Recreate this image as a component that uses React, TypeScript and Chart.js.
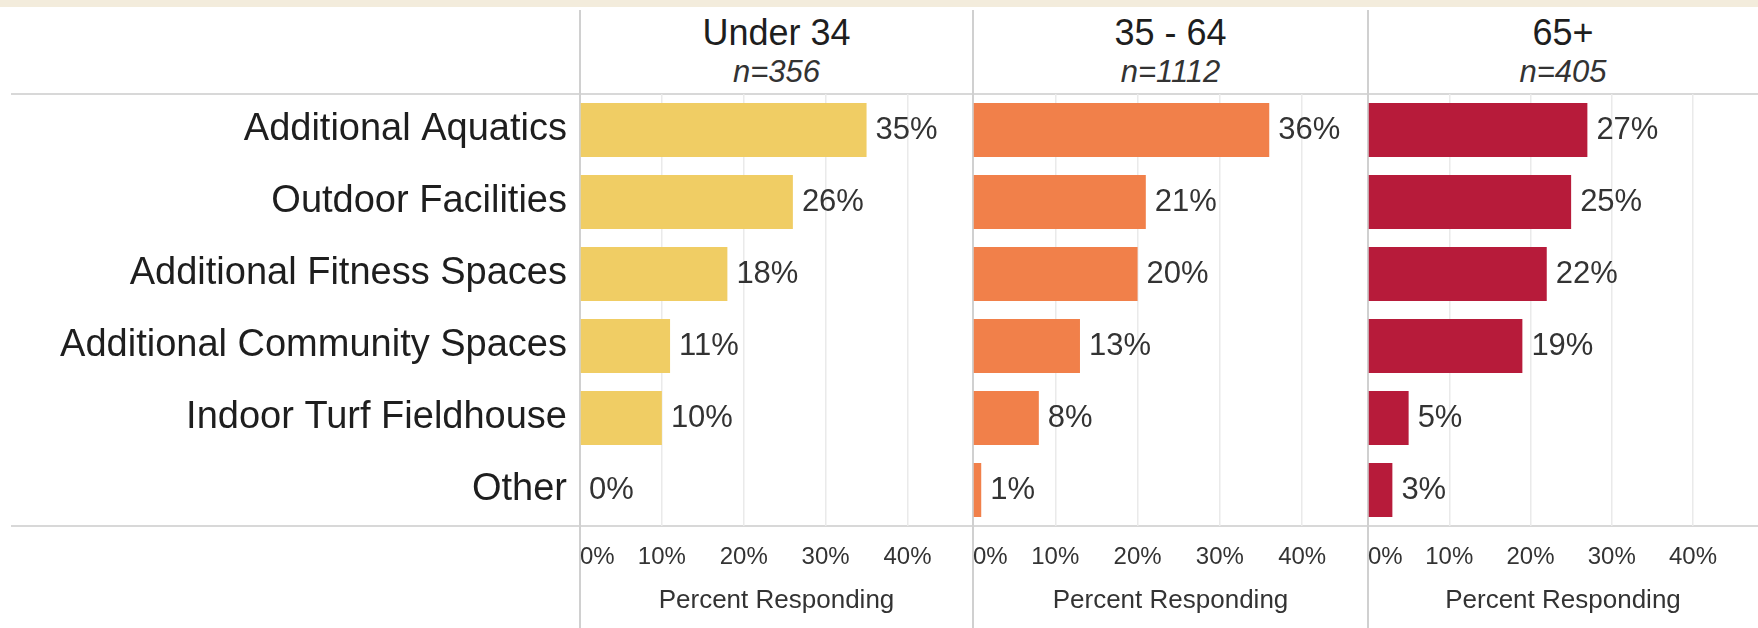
import React, { useEffect, useRef } from 'react';
import { Chart, registerables } from 'chart.js';

Chart.register(...registerables);

const FONT = '"Liberation Sans", Arial, Helvetica, sans-serif';

// ---- data ----
const categories = [
  'Additional Aquatics',
  'Outdoor Facilities',
  'Additional Fitness Spaces',
  'Additional Community Spaces',
  'Indoor Turf Fieldhouse',
  'Other',
];
const under34 = [35, 26, 18, 11, 10, 0];
const age35to64 = [36, 21, 20, 13, 8, 1];
const age65plus = [27, 25, 22, 19, 5, 3];
const panelTitles = ['Under 34', '35 - 64', '65+'];
const panelNs = ['n=356', 'n=1112', 'n=405'];
const tickValues = [0, 10, 20, 30, 40];
const axisMax = 48;
const axisTitle = 'Percent Responding';

const colors = ['#F0CD64', '#F1804A', '#B71B3A'];

// layout (page pixels)
const W = 1758;
const H = 628;
const TOP = 94;
const AXIS_H = 102;
const dividers = [580, 973, 1368];

const valueLabelPlugin = {
  id: 'valueLabels',
  afterDatasetsDraw(chart: any) {
    const ctx = chart.ctx;
    const meta = chart.getDatasetMeta(0);
    const data = chart.data.datasets[0].data as number[];
    ctx.save();
    ctx.font = `31px ${FONT}`;
    ctx.fillStyle = '#333333';
    ctx.textBaseline = 'middle';
    ctx.textAlign = 'left';
    meta.data.forEach((bar: any, i: number) => {
      ctx.fillText(`${data[i]}%`, bar.x + 9, bar.y);
    });
    ctx.restore();
  },
};

type PanelProps = {
  values: number[];
  color: string;
  showCategories: boolean;
  left: number;
  width: number;
};

function Panel({ values, color, showCategories, left, width }: PanelProps) {
  const ref = useRef<HTMLCanvasElement | null>(null);
  useEffect(() => {
    if (!ref.current) return;
    const yScale: any = {
      display: showCategories,
      grid: { display: false, drawTicks: false },
      border: { display: false },
      ticks: {
        padding: 13,
        color: '#1E1E1E',
        font: { family: FONT, size: 38 },
      },
    };
    if (showCategories) {
      yScale.afterFit = (s: any) => {
        s.width = dividers[0];
      };
    }
    const chart = new Chart(ref.current, {
      type: 'bar',
      data: {
        labels: categories,
        datasets: [
          {
            data: values,
            backgroundColor: color,
            borderWidth: 0,
            categoryPercentage: 0.75,
            barPercentage: 1,
          },
        ],
      },
      options: {
        indexAxis: 'y',
        responsive: false,
        animation: false,
        devicePixelRatio: 1,
        layout: { padding: { top: TOP, left: 0, right: 0, bottom: 0 } },
        plugins: {
          legend: { display: false },
          tooltip: { enabled: false },
          title: { display: false },
        },
        scales: {
          x: {
            min: 0,
            max: axisMax,
            afterBuildTicks: (s: any) => {
              s.ticks = [...tickValues, axisMax].map((v) => ({ value: v }));
            },
            afterFit: (s: any) => {
              s.height = AXIS_H;
            },
            grid: {
              drawTicks: true,
              tickLength: 17,
              tickColor: 'rgba(0,0,0,0)',
              lineWidth: 1.5,
              color: (c: any) =>
                c.tick && c.tick.value > 0 && c.tick.value < axisMax ? '#EAEAEA' : 'rgba(0,0,0,0)',
            },
            border: { display: false },
            ticks: {
              align: 'inner',
              padding: 0,
              autoSkip: false,
              maxRotation: 0,
              color: '#333333',
              font: { family: FONT, size: 24 },
              callback: (v: any) => (tickValues.includes(Number(v)) ? `${v}%` : ''),
            },
            title: {
              display: true,
              text: axisTitle,
              color: '#333333',
              font: { family: FONT, size: 26 },
              padding: { top: 0, bottom: 12 },
            },
          },
          y: yScale,
        },
      } as any,
      plugins: [valueLabelPlugin],
    });
    return () => chart.destroy();
  }, []);
  return (
    <canvas
      ref={ref}
      width={width}
      height={H}
      style={{ position: 'absolute', left, top: 0, width, height: H, display: 'block' }}
    />
  );
}

export default function App() {
  useEffect(() => {
    document.body.style.margin = '0';
  }, []);

  const panelLefts = dividers;
  const panelRights = [dividers[1], dividers[2], W];

  return (
    <div
      style={{
        position: 'absolute',
        left: 0,
        top: 0,
        width: W,
        height: H,
        background: '#FFFFFF',
        overflow: 'hidden',
        fontFamily: FONT,
      }}
    >
      {/* beige band */}
      <div style={{ position: 'absolute', left: 0, top: 0, width: W, height: 7, background: '#F3ECDC' }} />
      {/* header line and bottom line */}
      <div style={{ position: 'absolute', left: 11, top: TOP - 1, width: W - 11, height: 2, background: '#D8D8D8' }} />
      <div style={{ position: 'absolute', left: 11, top: H - AXIS_H - 1, width: W - 11, height: 2, background: '#D8D8D8' }} />
      {/* panel dividers */}
      {dividers.map((x) => (
        <div key={x} style={{ position: 'absolute', left: x - 1, top: 10, width: 2, height: H - 10, background: '#D0D0D0' }} />
      ))}
      {/* headers */}
      {panelTitles.map((t, i) => (
        <div
          key={t}
          style={{
            position: 'absolute',
            left: panelLefts[i],
            width: panelRights[i] - panelLefts[i],
            top: 15,
            textAlign: 'center',
            fontSize: 36,
            lineHeight: '36px',
            color: '#1E1E1E',
            whiteSpace: 'nowrap',
          }}
        >
          {t}
        </div>
      ))}
      {panelNs.map((t, i) => (
        <div
          key={t}
          style={{
            position: 'absolute',
            left: panelLefts[i],
            width: panelRights[i] - panelLefts[i],
            top: 56,
            textAlign: 'center',
            fontSize: 31,
            lineHeight: '31px',
            fontStyle: 'italic',
            color: '#333333',
            whiteSpace: 'nowrap',
          }}
        >
          {t}
        </div>
      ))}
      <Panel values={under34} color={colors[0]} showCategories={true} left={0} width={dividers[1]} />
      <Panel
        values={age35to64}
        color={colors[1]}
        showCategories={false}
        left={dividers[1]}
        width={dividers[2] - dividers[1]}
      />
      <Panel values={age65plus} color={colors[2]} showCategories={false} left={dividers[2]} width={W - dividers[2]} />
    </div>
  );
}
